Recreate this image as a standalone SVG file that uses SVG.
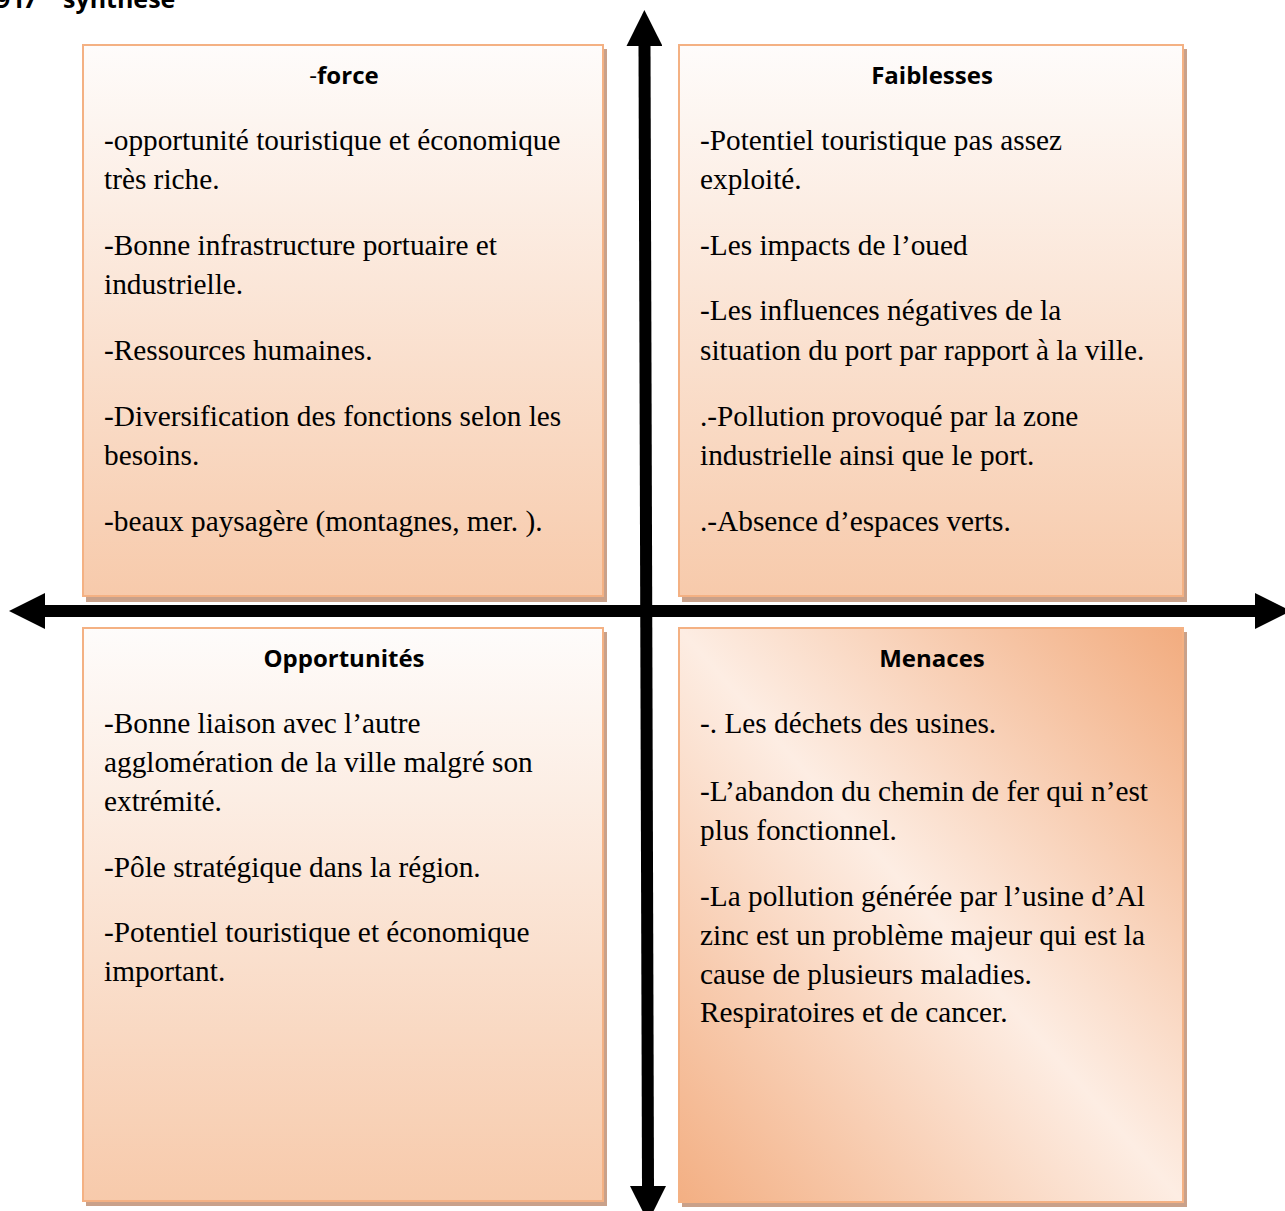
<svg xmlns="http://www.w3.org/2000/svg" width="1285" height="1211" viewBox="0 0 1285 1211">
<defs>
<style>
.box{stroke:#F4B183;stroke-width:2}
.shadow{fill:#C9A18A}
.head{font-family:"Open Sans","Liberation Sans",sans-serif;font-weight:bold;font-size:24px;fill:#000;text-anchor:middle}
.thin{font-weight:normal}
.body{font-family:"Liberation Serif","Times New Roman",serif;font-size:29.3px;fill:#000}
.title{font-family:"Open Sans","Liberation Sans",sans-serif;font-weight:bold;font-size:25px;fill:#000}
.axis{stroke:#000;stroke-width:12;fill:none;marker-start:url(#head);marker-end:url(#head)}
</style>
<linearGradient id="gv" x1="0" y1="0" x2="0" y2="1">
<stop offset="0" stop-color="#FEFCFB"/>
<stop offset="1" stop-color="#F7CAAB"/>
</linearGradient>
<linearGradient id="gd" x1="1" y1="0" x2="0" y2="1">
<stop offset="0" stop-color="#F2AC7F"/>
<stop offset="0.5" stop-color="#FDEDE3"/>
<stop offset="1" stop-color="#F3AF83"/>
</linearGradient>
<marker id="head" viewBox="0 0 36 36" markerWidth="36" markerHeight="36" refX="0" refY="18" orient="auto-start-reverse" markerUnits="userSpaceOnUse">
<path d="M0,0 L36,18 L0,36 z" fill="#000"/>
</marker>
</defs>
<rect width="1285" height="1211" fill="#fff"/>

<text class="title" y="8"><tspan x="-4">9</tspan><tspan x="15">I</tspan><tspan x="23">7</tspan><tspan x="63">synthèse</tspan></text>

<g id="force">
<rect class="shadow" x="86" y="49" width="521" height="553"/>
<rect class="box" x="83" y="45" width="520" height="551" fill="url(#gv)"/>
<text class="head" x="344" y="84"><tspan class="thin">-</tspan>force</text>
<text class="body" x="104">
<tspan y="150">-opportunité touristique et économique</tspan>
<tspan x="104" y="189">très riche.</tspan>
<tspan x="104" y="255">-Bonne infrastructure portuaire et</tspan>
<tspan x="104" y="294">industrielle.</tspan>
<tspan x="104" y="360">-Ressources humaines.</tspan>
<tspan x="104" y="426">-Diversification des fonctions selon les</tspan>
<tspan x="104" y="465">besoins.</tspan>
<tspan x="104" y="531">-beaux paysagère (montagnes, mer. ).</tspan>
</text>
</g>

<g id="faiblesses">
<rect class="shadow" x="682" y="49" width="505" height="553"/>
<rect class="box" x="679" y="45" width="504" height="551" fill="url(#gv)"/>
<text class="head" x="932" y="84">Faiblesses</text>
<text class="body" x="700">
<tspan y="150">-Potentiel touristique pas assez</tspan>
<tspan x="700" y="189">exploité.</tspan>
<tspan x="700" y="255">-Les impacts de l’oued</tspan>
<tspan x="700" y="320">-Les influences négatives de la</tspan>
<tspan x="700" y="360">situation du port par rapport à la ville.</tspan>
<tspan x="700" y="426">.-Pollution provoqué par la zone</tspan>
<tspan x="700" y="465">industrielle ainsi que le port.</tspan>
<tspan x="700" y="531">.-Absence d’espaces verts.</tspan>
</text>
</g>

<g id="opportunites">
<rect class="shadow" x="86" y="632" width="521" height="574"/>
<rect class="box" x="83" y="628" width="520" height="573" fill="url(#gv)"/>
<text class="head" x="344" y="667">Opportunités</text>
<text class="body" x="104">
<tspan y="733">-Bonne liaison avec l’autre</tspan>
<tspan x="104" y="772">agglomération de la ville malgré son</tspan>
<tspan x="104" y="811">extrémité.</tspan>
<tspan x="104" y="877">-Pôle stratégique dans la région.</tspan>
<tspan x="104" y="942">-Potentiel touristique et économique</tspan>
<tspan x="104" y="981">important.</tspan>
</text>
</g>

<g id="menaces">
<rect class="shadow" x="682" y="632" width="505" height="575"/>
<rect class="box" x="679" y="628" width="504" height="574" fill="url(#gd)"/>
<text class="head" x="932" y="667">Menaces</text>
<text class="body" x="700">
<tspan y="733">-. Les déchets des usines.</tspan>
<tspan x="700" y="801">-L’abandon du chemin de fer qui n’est</tspan>
<tspan x="700" y="840">plus fonctionnel.</tspan>
<tspan x="700" y="906">-La pollution générée par l’usine d’Al</tspan>
<tspan x="700" y="945">zinc est un problème majeur qui est la</tspan>
<tspan x="700" y="984">cause de plusieurs maladies.</tspan>
<tspan x="700" y="1022">Respiratoires et de cancer.</tspan>
</text>
</g>

<g id="connectors">
<line class="axis" x1="45" y1="611" x2="1255" y2="611"/>
<line class="axis" x1="644.5" y1="46" x2="648" y2="1186"/>
</g>
</svg>
